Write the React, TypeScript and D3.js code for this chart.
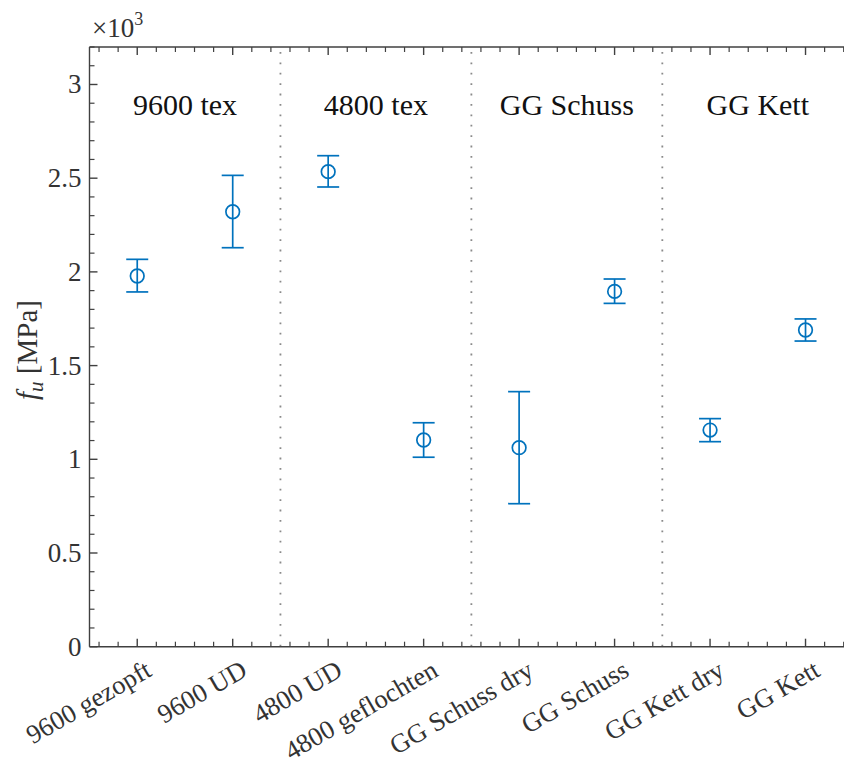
import React from "react";
import * as d3 from "d3";

const categories = [
  "9600 gezopft",
  "9600 UD",
  "4800 UD",
  "4800 geflochten",
  "GG Schuss dry",
  "GG Schuss",
  "GG Kett dry",
  "GG Kett",
];
const meanValues = [1978, 2321, 2535, 1103, 1062, 1896, 1156, 1690];
const upperValues = [2067, 2515, 2620, 1195, 1361, 1962, 1217, 1749];
const lowerValues = [1893, 2129, 2453, 1011, 763, 1832, 1094, 1631];
const groupLabels = ["9600 tex", "4800 tex", "GG Schuss", "GG Kett"];
const groupCenters = [1.5, 3.5, 5.5, 7.5];
const dividers = [2.5, 4.5, 6.5];
const yMajorTicks = [0, 500, 1000, 1500, 2000, 2500, 3000];
const yTickLabels = ["0", "0.5", "1", "1.5", "2", "2.5", "3"];

const W = 844;
const H = 765;
const LEFT = 89.5;
const TOP = 47;
const BOTTOM = 646.7;
const FONT = "Liberation Serif, DejaVu Serif, serif";
const AX = "#404040";
const BLUE = "#0072BD";

export default function App() {
  const x = d3.scaleLinear().domain([0.5, 8.5]).range([LEFT, LEFT + 8 * 95.47]);
  const y = d3.scaleLinear().domain([0, 3200]).range([BOTTOM, TOP]);
  const right = x(8.5);

  const yMinor = d3.range(0, 3201, 100).filter((v) => v % 500 !== 0);
  const xMinor = d3.range(0.6, 8.5, 0.2).filter((v) => Math.abs(v - Math.round(v)) > 0.01);
  const xMajor = d3.range(1, 9, 1);
  const tf = { fontFamily: FONT };

  return (
    <svg
      width={W}
      height={H}
      style={{ position: "absolute", left: 0, top: 0, background: "#fff", fontFamily: FONT }}
    >
      <rect x={0} y={0} width={W} height={H} fill="#fff" />
      {dividers.map((d) => (
        <line
          key={"d" + d}
          x1={x(d)}
          x2={x(d)}
          y1={TOP + 5}
          y2={BOTTOM}
          stroke="#8a8a8a"
          strokeWidth={1.8}
          strokeDasharray="1.8 8.6"
        />
      ))}
      {groupLabels.map((g, i) => (
        <text
          key={g}
          x={x(groupCenters[i])}
          y={115}
          textAnchor="middle"
          fontSize={30}
          fill="#111"
          style={tf}
        >
          {g}
        </text>
      ))}
      <line x1={LEFT} x2={LEFT} y1={TOP} y2={BOTTOM} stroke={AX} strokeWidth={1.4} />
      <line x1={LEFT} x2={right} y1={BOTTOM} y2={BOTTOM} stroke={AX} strokeWidth={1.4} />
      <line x1={LEFT} x2={right} y1={TOP} y2={TOP} stroke={AX} strokeWidth={1.4} />
      <line x1={right} x2={right} y1={TOP} y2={BOTTOM} stroke={AX} strokeWidth={1.4} />
      {yMajorTicks.map((v, i) => (
        <g key={"ym" + v}>
          <line x1={LEFT} x2={LEFT + 8} y1={y(v)} y2={y(v)} stroke={AX} strokeWidth={1.4} />
          <text
            x={LEFT - 8}
            y={y(v)}
            dy="0.33em"
            textAnchor="end"
            fontSize={27}
            fill="#333"
            style={tf}
          >
            {yTickLabels[i]}
          </text>
        </g>
      ))}
      {yMinor.map((v) => (
        <line key={"yn" + v} x1={LEFT} x2={LEFT + 5} y1={y(v)} y2={y(v)} stroke={AX} strokeWidth={1.2} />
      ))}
      {xMajor.map((v) => (
        <g key={"xm" + v}>
          <line x1={x(v)} x2={x(v)} y1={BOTTOM} y2={BOTTOM - 8} stroke={AX} strokeWidth={1.4} />
          <line x1={x(v)} x2={x(v)} y1={TOP} y2={TOP + 8} stroke={AX} strokeWidth={1.4} />
        </g>
      ))}
      {xMinor.map((v) => (
        <g key={"xn" + v.toFixed(1)}>
          <line x1={x(v)} x2={x(v)} y1={BOTTOM} y2={BOTTOM - 5} stroke={AX} strokeWidth={1.2} />
          <line x1={x(v)} x2={x(v)} y1={TOP} y2={TOP + 5} stroke={AX} strokeWidth={1.2} />
        </g>
      ))}
      {categories.map((c, i) => (
        <text
          key={c}
          transform={`translate(${x(i + 1) + 16},${675}) rotate(-30)`}
          textAnchor="end"
          fontSize={26.5}
          fill="#333"
          style={tf}
        >
          {c}
        </text>
      ))}
      {categories.map((c, i) => {
        const cx = x(i + 1);
        const cy = y(meanValues[i]);
        const yt = y(upperValues[i]);
        const yb = y(lowerValues[i]);
        return (
          <g key={"e" + c} stroke={BLUE} strokeWidth={1.7} fill="none">
            <line x1={cx} x2={cx} y1={yt} y2={yb} />
            <line x1={cx - 11} x2={cx + 11} y1={yt} y2={yt} />
            <line x1={cx - 11} x2={cx + 11} y1={yb} y2={yb} />
            <circle cx={cx} cy={cy} r={6.8} />
          </g>
        );
      })}
      <text
        transform={`translate(37,350) rotate(-90)`}
        textAnchor="middle"
        fontSize={29}
        fill="#333"
        style={tf}
      >
        <tspan fontStyle="italic">f</tspan>
        <tspan fontStyle="italic" fontSize={21} dy={6}>u</tspan>
        <tspan dy={-6}> [MPa]</tspan>
      </text>
      <text x={92} y={37} fontSize={27} fill="#333" style={tf}>
        ×10
        <tspan fontSize={18} dy={-12}>3</tspan>
      </text>
    </svg>
  );
}
